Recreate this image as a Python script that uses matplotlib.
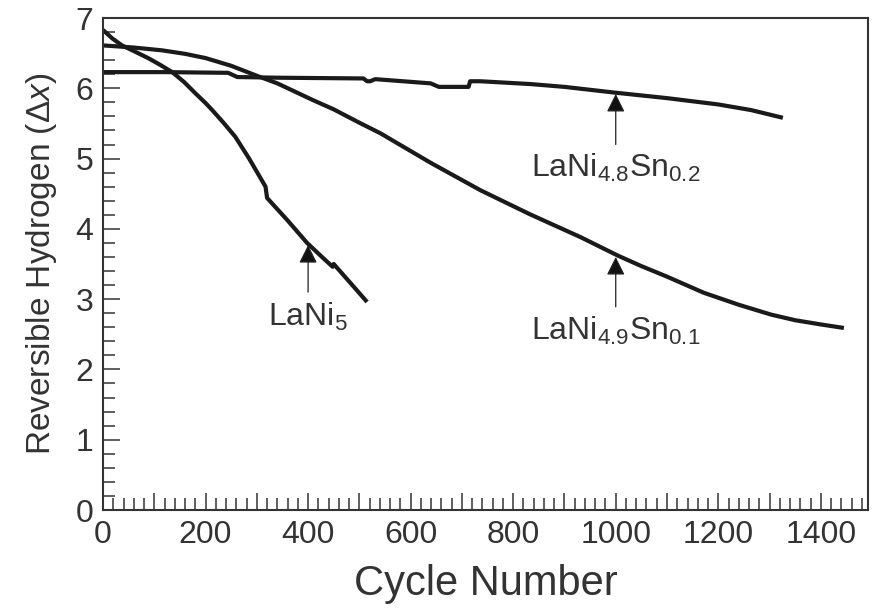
import matplotlib
matplotlib.use("Agg")
import matplotlib.pyplot as plt
from matplotlib.ticker import MultipleLocator, FuncFormatter

# curves (cycle number, reversible hydrogen)
lani5_x = [0, 18, 37, 60, 88, 110, 135, 158, 180, 200, 213, 235, 258, 285, 313, 317, 320, 360, 398, 430, 448, 450, 456, 485, 515]
lani5_y = [6.83, 6.71, 6.61, 6.53, 6.43, 6.34, 6.23, 6.09, 5.93, 5.79, 5.69, 5.51, 5.31, 5.00, 4.65, 4.60, 4.44, 4.12, 3.80, 3.58, 3.46, 3.50, 3.45, 3.21, 2.96]

sn01_x = [0, 60, 115, 160, 200, 250, 303, 340, 375, 410, 450, 500, 541, 639, 736, 832, 932, 1004, 1050, 1100, 1172, 1240, 1303, 1350, 1400, 1445]
sn01_y = [6.61, 6.58, 6.54, 6.49, 6.43, 6.32, 6.17, 6.07, 5.95, 5.83, 5.70, 5.51, 5.36, 4.94, 4.55, 4.21, 3.88, 3.62, 3.47, 3.32, 3.09, 2.92, 2.78, 2.70, 2.64, 2.59]

sn02_x = [0, 120, 244, 262, 346, 508, 515, 521, 531, 639, 655, 713, 716, 736, 834, 900, 996, 1100, 1200, 1264, 1326]
sn02_y = [6.23, 6.23, 6.22, 6.16, 6.15, 6.14, 6.10, 6.10, 6.13, 6.07, 6.02, 6.02, 6.10, 6.10, 6.06, 6.02, 5.94, 5.86, 5.77, 5.69, 5.58]

labels = ['LaNi$_5$', 'LaNi$_{4.9}$Sn$_{0.1}$', 'LaNi$_{4.8}$Sn$_{0.2}$']

plt.rcParams['font.family'] = ['Liberation Sans', 'DejaVu Sans']
plt.rcParams['mathtext.fontset'] = 'custom'
plt.rcParams['mathtext.rm'] = 'Liberation Sans'
plt.rcParams['mathtext.it'] = 'Liberation Sans:italic'
plt.rcParams['mathtext.default'] = 'regular'

txt = '#333333'
fig = plt.figure(figsize=(8.76, 6.14), dpi=100)
ax = fig.add_axes([103 / 876, 104 / 614, 765 / 876, 492 / 614])

line_kw = dict(color='#1a1a1a', lw=3, solid_capstyle='butt', solid_joinstyle='round')
ax.plot(lani5_x, lani5_y, **line_kw)
ax.plot(sn01_x, sn01_y, **line_kw)
ax.plot(sn02_x, sn02_y, **line_kw)

ax.set_xlim(0, 1492)
ax.set_ylim(0, 7)

ax.xaxis.set_major_locator(MultipleLocator(100))
ax.xaxis.set_minor_locator(MultipleLocator(20))
ax.xaxis.set_major_formatter(FuncFormatter(lambda v, p: '%d' % v if int(round(v)) % 200 == 0 else ''))
ax.yaxis.set_major_locator(MultipleLocator(1))
ax.yaxis.set_minor_locator(MultipleLocator(0.2))

ax.tick_params(which='both', direction='in', top=False, right=False,
               color='#333333', width=1.1, labelsize=23, labelcolor=txt, pad=7)
ax.tick_params(which='major', length=12)
ax.tick_params(which='minor', length=8.5)
for s in ax.spines.values():
    s.set_color('#333333')
    s.set_linewidth(1.5)

ax.set_xlabel('Cycle Number', fontsize=30, color=txt, labelpad=10)
ax.set_ylabel(r'Reversible Hydrogen ($\Delta\mathit{x}$)', fontsize=24, color=txt, labelpad=12)

arrow_kw = dict(arrowstyle='-|>', mutation_scale=28, lw=0.9, ec='#222222', fc='#111111', shrinkA=0, shrinkB=0)
ax.annotate('', xy=(400, 3.77), xytext=(400, 3.10), arrowprops=arrow_kw)
ax.text(400, 2.75, labels[0], fontsize=23, color=txt, ha='center', va='center')

ax.annotate('', xy=(1000, 3.60), xytext=(1000, 2.89), arrowprops=arrow_kw)
ax.text(1000, 2.55, labels[1], fontsize=23, color=txt, ha='center', va='center')

ax.annotate('', xy=(1000, 5.92), xytext=(1000, 5.20), arrowprops=arrow_kw)
ax.text(1000, 4.86, labels[2], fontsize=23, color=txt, ha='center', va='center')

fig.savefig('out.png', dpi=100)
